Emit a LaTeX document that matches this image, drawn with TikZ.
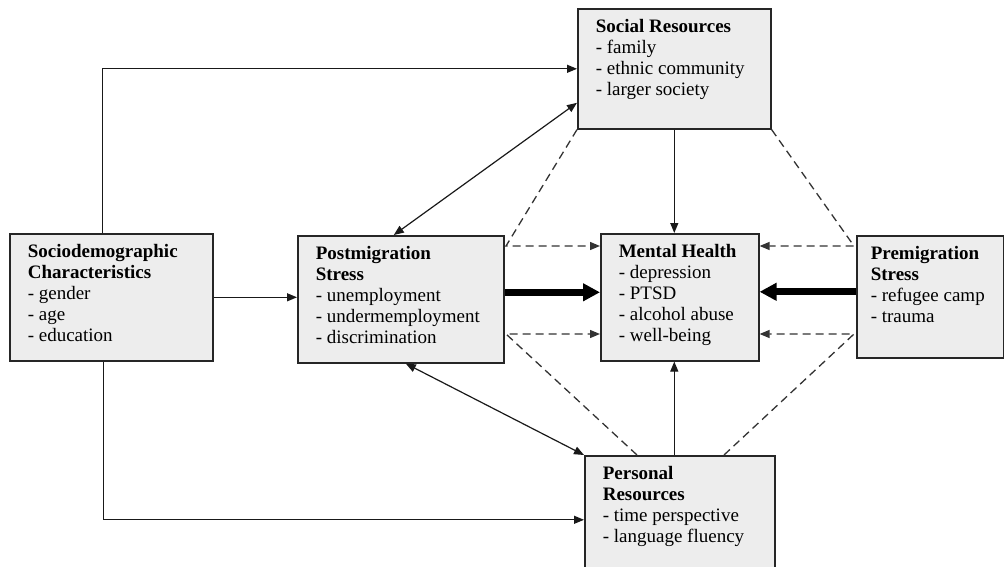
\documentclass[tikz,border=0pt]{standalone}
\usepackage{fontspec}
\setmainfont{Liberation Serif}
\usetikzlibrary{arrows.meta, positioning, calc}

\begin{document}
\begin{tikzpicture}[x=1pt, y=-1pt,
    every node/.style={font=\fontsize{19}{21}\selectfont},
    hb/.style={draw=black!85, line width=1.6pt, fill=black!7, anchor=north west, inner xsep=18pt, inner ysep=11pt},
    a/.style={-{Triangle[length=10pt,width=8pt]}, line width=1.2pt, draw=black!90},
    aa/.style={{Triangle[length=10pt,width=8pt]}-{Triangle[length=10pt,width=8pt]}, line width=1.2pt, draw=black!90},
    ta/.style={-{Triangle[length=17pt,width=17pt]}, line width=7pt},
    d/.style={-{Triangle[length=10pt,width=8pt]}, dash pattern=on 8pt off 5pt, line width=1.3pt, draw=black!80}
]
\useasboundingbox (0,0) rectangle (1004,567);
\def\hh#1{\textbf{#1}\\}
\def\bx#1#2#3{\parbox[c][#1][t]{#2}{\raggedright #3}}
\node[hb] (socio) at (9,233) {\bx{105pt}{167pt}{\hh{Sociodemographic}\hh{Characteristics}- gender\\- age\\- education}};
\node[hb] (post) at (297,235) {\bx{105pt}{170pt}{\hh{Postmigration}\hh{Stress}- unemployment\\- undermemployment\\- discrimination}};
\node[hb] (social) at (577,8) {\bx{98pt}{157pt}{\hh{Social Resources}- family\\- ethnic community\\- larger society}};
\node[hb] (mh) at (600,233) {\bx{105pt}{122pt}{\hh{Mental Health}- depression\\- PTSD\\- alcohol abuse\\- well-being}};
\node[hb, inner xsep=14pt] (prem) at (856,235) {\bx{100pt}{119pt}{\hh{Premigration}\hh{Stress}- refugee camp\\- trauma}};
\node[hb] (personal) at (584,455) {\bx{106pt}{154pt}{\hh{Personal}\hh{Resources}- time perspective\\- language fluency}};
% corners of the dashed paths
\coordinate (pu) at (506,246);
\coordinate (pd) at (506,334);
\coordinate (qu) at (854,246);
\coordinate (qd) at (854,334);
\draw[a] ([xshift=-9pt]socio.north) |- (social.west);
\draw[a] ([xshift=-8pt]socio.south) |- (personal.west);
\draw[a] (socio.east) -- (socio.east -| post.west);
\draw[aa] ([xshift=-7pt]post.north) -- ([yshift=-34pt]social.west);
\draw[aa] ([xshift=5pt]post.south) -- (personal.north west);
\draw[a] (social.south) -- (social.south |- mh.north);
\draw[a] (personal.north -| social.south) -- (social.south |- mh.south);
\draw[ta] ([yshift=7pt]post.east) -- ([yshift=7pt]post.east -| mh.west);
\draw[ta] ([yshift=5pt]prem.west) -- ([yshift=5pt]prem.west -| mh.east);
\draw[d] (social.south west) -- (pu) -- (pu -| mh.west);
\draw[d] ([xshift=53pt]personal.north west) -- (pd) -- (pd -| mh.west);
\draw[d] (social.south east) -- (qu) -- (qu -| mh.east);
\draw[d] ([xshift=140pt]personal.north west) -- (qd) -- (qd -| mh.east);
\end{tikzpicture}
\end{document}
